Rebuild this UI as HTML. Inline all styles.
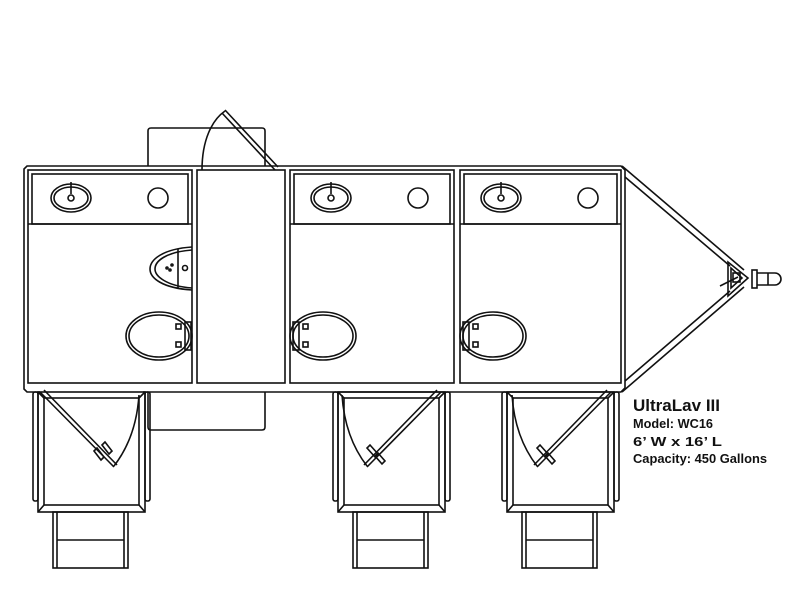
<!DOCTYPE html>
<html><head><meta charset="utf-8"><style>html,body{margin:0;padding:0;background:#fff}svg{display:block}</style></head>
<body>
<svg width="800" height="604" viewBox="0 0 800 604" xmlns="http://www.w3.org/2000/svg">
<g fill="none" stroke="#111" stroke-width="1.6">
<!-- top door box -->
<path d="M148,166 V131 Q148,128 151,128 H262 Q265,128 265,131 V166"/>
<!-- bottom box -->
<path d="M148,392 V427 Q148,430 151,430 H262 Q265,430 265,427 V392"/>
<!-- body outer -->
<path d="M143,392 H621 L625,388 V170 L621,166 H27 L24,169 V389 L27,392 H40"/>
<!-- stalls inner -->
<rect x="28" y="170" width="164" height="213"/>
<rect x="197" y="170" width="88" height="213"/>
<rect x="290" y="170" width="164" height="213"/>
<rect x="460" y="170" width="161" height="213"/>
<!-- counters -->
<rect x="32" y="174" width="156" height="50"/>
<line x1="28" y1="224" x2="192" y2="224"/>
<rect x="294" y="174" width="156" height="50"/>
<line x1="290" y1="224" x2="454" y2="224"/>
<rect x="464" y="174" width="153" height="50"/>
<line x1="460" y1="224" x2="621" y2="224"/>
<!-- sinks -->
<g><ellipse cx="71" cy="198" rx="20" ry="14"/><ellipse cx="71" cy="198" rx="17" ry="11"/><circle cx="71" cy="198" r="3"/><line x1="71" y1="182" x2="71" y2="194"/><circle cx="158" cy="198" r="10"/></g>
<g transform="translate(260,0)"><ellipse cx="71" cy="198" rx="20" ry="14"/><ellipse cx="71" cy="198" rx="17" ry="11"/><circle cx="71" cy="198" r="3"/><line x1="71" y1="182" x2="71" y2="194"/><circle cx="158" cy="198" r="10"/></g>
<g transform="translate(430,0)"><ellipse cx="71" cy="198" rx="20" ry="14"/><ellipse cx="71" cy="198" rx="17" ry="11"/><circle cx="71" cy="198" r="3"/><line x1="71" y1="182" x2="71" y2="194"/><circle cx="158" cy="198" r="10"/></g>
<!-- urinal -->
<path d="M192,247 C162,249 150,260 150,269 C150,278 162,288 192,290"/>
<path d="M192,250 C166,252 155,261 155,269 C155,276 166,286 192,288"/>
<line x1="178" y1="249" x2="178" y2="288"/>
<circle cx="185" cy="268" r="2.5"/>
<circle cx="172" cy="265" r="1"/><circle cx="170" cy="270" r="1"/><circle cx="167" cy="268" r="1"/>
<!-- toilets -->
<ellipse cx="159" cy="336" rx="33" ry="24"/><ellipse cx="159" cy="336" rx="30" ry="21"/>
<rect x="185" y="322" width="6" height="28"/><rect x="176" y="324" width="5" height="5"/><rect x="176" y="342" width="5" height="5"/>
<ellipse cx="323" cy="336" rx="33" ry="24"/><ellipse cx="323" cy="336" rx="30" ry="21"/>
<rect x="293" y="322" width="6" height="28"/><rect x="303" y="324" width="5" height="5"/><rect x="303" y="342" width="5" height="5"/>
<ellipse cx="493" cy="336" rx="33" ry="24"/><ellipse cx="493" cy="336" rx="30" ry="21"/>
<rect x="463" y="322" width="6" height="28"/><rect x="473" y="324" width="5" height="5"/><rect x="473" y="342" width="5" height="5"/>
<!-- top door -->
<path d="M202,170 C202,140 212,120 225,111"/>
<path d="M225,110 L278,167 M222,113 L275,170"/>
<!-- tongue -->
<path d="M622,166 L744,270 M625,177 L730,266"/>
<path d="M622,392 L744,287 M625,381 L730,291"/>
<path d="M728,262 V296 L748,278 Z"/>
<path d="M731,268 V288 L742,278 Z"/>
<rect x="733" y="273" width="7" height="9"/>
<line x1="720" y1="286" x2="738" y2="277"/>
<rect x="752" y="270" width="5" height="18"/>
<path d="M757,273 H775 A6,6 0 0 1 775,285 H757"/>
<line x1="768" y1="273" x2="768" y2="285"/>
</g>
<!-- porches -->
<g fill="none" stroke="#111" stroke-width="1.6">
<g id="p1">
<rect x="33" y="392" width="5" height="109" rx="2"/>
<rect x="145" y="392" width="5" height="109" rx="2"/>
<rect x="38" y="392" width="107" height="120"/>
<rect x="44" y="398" width="95" height="107"/>
<path d="M38,392 L44,398 M145,392 L139,398 M38,512 L44,505 M145,512 L139,505"/>
<rect x="53" y="512" width="75" height="56"/>
<line x1="57" y1="512" x2="57" y2="568"/><line x1="124" y1="512" x2="124" y2="568"/>
<line x1="57" y1="540" x2="124" y2="540"/>
</g>
<use href="#p1" transform="translate(300,0)"/>
<use href="#p1" transform="translate(469,0)"/>
<!-- door leaves -->
<path d="M40,392 L114,467 M44,390 L117,465"/>
<path d="M139,395 C137,425 128,448 114,466"/>
<path d="M94,451 L101,460 L104,457 L97,448 Z M102,445 L109,454 L112,451 L105,442 Z"/>
<path d="M441,392 L367,467 M437,390 L364,465"/>
<path d="M342,395 C344,425 353,448 367,466"/>
<path d="M370,445 L378,454 L375,457 L367,448 Z M378,453 L385,461 L382,464 L375,456 Z"/>
<path d="M611,392 L537,467 M607,390 L534,465"/>
<path d="M512,395 C514,425 523,448 537,466"/>
<path d="M540,445 L548,454 L545,457 L537,448 Z M548,453 L555,461 L552,464 L545,456 Z"/>
</g>
<g fill="#111" font-family="'Liberation Sans',sans-serif" font-weight="bold">
<text x="633" y="411" font-size="17" textLength="87" lengthAdjust="spacingAndGlyphs">UltraLav III</text>
<text x="633" y="428" font-size="13" textLength="80" lengthAdjust="spacingAndGlyphs">Model: WC16</text>
<text x="633" y="446" font-size="13" textLength="89" lengthAdjust="spacingAndGlyphs">6’ W x 16’ L</text>
<text x="633" y="463" font-size="13" textLength="134" lengthAdjust="spacingAndGlyphs">Capacity: 450 Gallons</text>
</g>
</svg>
</body></html>
